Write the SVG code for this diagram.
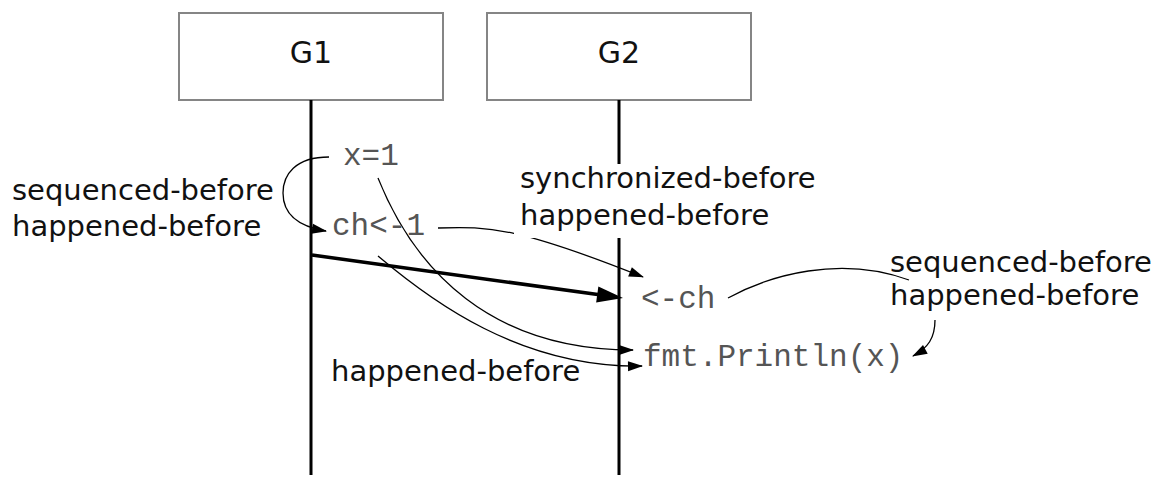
<svg xmlns="http://www.w3.org/2000/svg" width="1163" height="486" viewBox="0 0 1163 486">
<style>
.box{fill:#fff;stroke:#858585;stroke-width:2}
.life{stroke:#000;stroke-width:3}
.lbl{font-family:"DejaVu Sans",Verdana,sans-serif;font-size:29px;fill:#111}
.head{font-family:"DejaVu Sans",Verdana,sans-serif;font-size:30px;fill:#111;text-anchor:middle}
.code{font-family:"Liberation Mono","Courier New",monospace;font-size:31px;fill:#555}
.thin{fill:none;stroke:#000;stroke-width:1.3}
.thick{fill:none;stroke:#000;stroke-width:3.5}
</style>
<defs>
<marker id="ah" markerUnits="userSpaceOnUse" markerWidth="16" markerHeight="12" refX="14" refY="5" orient="auto" overflow="visible">
<path d="M0,0 L15,5 L0,10 z" fill="#000"/>
</marker>
<marker id="ahb" markerUnits="userSpaceOnUse" markerWidth="28" markerHeight="18" refX="6" refY="8" orient="auto" overflow="visible">
<path d="M0,0 L26,8 L0,16 z" fill="#000"/>
</marker>
</defs>
<rect width="1163" height="486" fill="#fff"/>
<g id="G1">
<rect class="box" x="179" y="13" width="264" height="87"/>
<text class="head" x="311" y="63">G1</text>
<line class="life" x1="311" y1="100" x2="311" y2="475"/>
</g>
<g id="G2">
<rect class="box" x="487" y="13" width="264" height="87"/>
<text class="head" x="619" y="63">G2</text>
<line class="life" x1="619" y1="100" x2="619" y2="475"/>
</g>
<g id="connectors">
<path class="thin" d="M329 157 C295 157 283 175 283 193 C283 212 295 226 326 231" marker-end="url(#ah)"/>
<path class="thin" d="M378 178 C415 270 490 350 633 350" marker-end="url(#ah)"/>
<path class="thin" d="M378 256 C430 300 520 368 642 366" marker-end="url(#ah)"/>
<line class="thick" x1="312" y1="255" x2="603.2" y2="295.3" marker-end="url(#ahb)"/>
<path class="thin" d="M438 228 C490 226 520 228 643 277" marker-end="url(#ah)"/>
<path class="thin" d="M728 298 C770 275 840 255 909 280"/>
<path class="thin" d="M935 320 C935 338 928 348 913 356" marker-end="url(#ah)"/>
</g>
<g id="ops">
<text class="code" x="343" y="165">x=1</text>
<text class="code" x="332" y="235">ch&lt;-1</text>
<text class="code" x="641" y="308">&lt;-ch</text>
<text class="code" x="643" y="366">fmt.Println(x)</text>
</g>
<g id="label-seq-left">
<text class="lbl" x="12" y="200">sequenced-before</text>
<text class="lbl" x="12" y="236">happened-before</text>
</g>
<g id="label-sync">
<rect x="514" y="164" width="308" height="74" fill="#fff"/>
<text class="lbl" x="520" y="188">synchronized-before</text>
<text class="lbl" x="520" y="225">happened-before</text>
</g>
<g id="label-seq-right">
<text class="lbl" x="890" y="272">sequenced-before</text>
<text class="lbl" x="890" y="305">happened-before</text>
</g>
<g id="label-hb">
<text class="lbl" x="331" y="381">happened-before</text>
</g>
</svg>
